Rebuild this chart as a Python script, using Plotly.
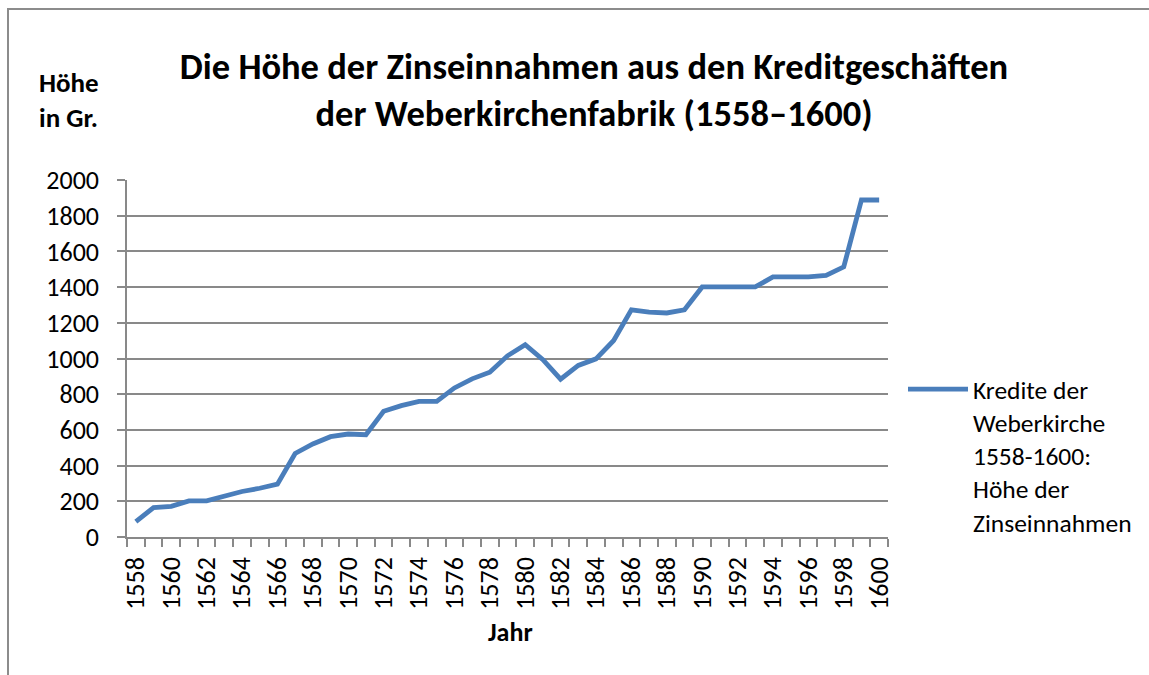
import plotly.graph_objects as go

# Interest income of the Weberkirche fabric, 1558-1600 (in Groschen)
years = list(range(1558, 1601))
zinsen = [
    86, 165, 172, 202, 202, 230, 255, 273, 296, 468,
    521, 562, 577, 573, 704, 736, 760, 760, 835, 886,
    923, 1015, 1077, 993, 884, 961, 998, 1101, 1273, 1260,
    1255, 1273, 1401, 1401, 1401, 1401, 1457, 1457, 1457, 1466,
    1513, 1888, 1888,
]
label_years = list(range(1558, 1601, 2))
y_ticks = list(range(0, 2001, 200))

series_name = "Kredite der<br>Weberkirche<br>1558-1600:<br>Höhe der<br>Zinseinnahmen"
title_text = "Die Höhe der Zinseinnahmen aus den Kreditgeschäften<br>der Weberkirchenfabrik (1558–1600)"

W, H = 1149, 675
ML, MR, MT, MB = 127, 261, 180, 138
PW, PH = W - ML - MR, H - MT - MB

FONT = "Carlito, Lato, sans-serif"
GRID = "#898989"


def px_x(px):
    return (px - ML) / PW


def px_y(py):
    return (H - MB - py) / PH


fig = go.Figure()
fig.add_trace(go.Scatter(
    x=years, y=zinsen, mode="lines", name=series_name,
    line=dict(color="#4a7ebb", width=4.8),
))

fig.update_layout(
    width=W, height=H,
    margin=dict(l=ML, r=MR, t=MT, b=MB, autoexpand=False),
    paper_bgcolor="white", plot_bgcolor="white",
    font=dict(family=FONT, color="black"),
    title=dict(
        text=title_text,
        font=dict(family=FONT, size=36.5, color="black", weight="bold"),
        xref="container", x=594 / W, xanchor="center",
        yref="container", y=1 - 79 / H, yanchor="middle",
    ),
    showlegend=True,
    legend=dict(
        x=px_x(903), xanchor="left", y=px_y(366), yanchor="top",
        valign="top", itemwidth=60, bgcolor="rgba(0,0,0,0)",
        font=dict(family=FONT, size=25.5, color="black"),
    ),
    xaxis=dict(
        range=[1557.5, 1600.5], showgrid=False, zeroline=False,
        showline=True, linecolor=GRID, linewidth=1.5,
        tickmode="array", tickvals=label_years,
        ticktext=[str(v) for v in label_years],
        ticks="outside", ticklen=8, tickcolor="rgba(0,0,0,0)",
        tickangle=-90, tickfont=dict(family=FONT, size=26, color="black"),
        ticklabelstandoff=0,
        minor=dict(tick0=1557.5, dtick=1, ticks="outside", ticklen=8,
                   tickcolor=GRID, tickwidth=1.5, showgrid=False),
    ),
    yaxis=dict(
        range=[0, 2000], tickmode="array", tickvals=y_ticks,
        showgrid=True, gridcolor=GRID, gridwidth=1.5, zeroline=False,
        showline=True, linecolor=GRID, linewidth=1.5,
        ticks="outside", ticklen=8, tickcolor=GRID, tickwidth=1.5,
        tickfont=dict(family=FONT, size=26, color="black"),
        ticklabelstandoff=13,
    ),
)

# axis titles
fig.add_annotation(
    text="<b>Höhe<br>in Gr.</b>", xref="paper", yref="paper",
    x=px_x(37), y=px_y(100), xanchor="left", yanchor="middle",
    align="left", showarrow=False,
    font=dict(family=FONT, size=27, color="black"),
)
fig.add_annotation(
    text="<b>Jahr</b>", xref="paper", yref="paper",
    x=px_x(510), y=px_y(632), xanchor="center", yanchor="middle",
    showarrow=False, font=dict(family=FONT, size=26, color="black"),
)

# chart frame (left and top edges)
fig.add_shape(
    type="path", xref="paper", yref="paper",
    path=f"M {px_x(8)} {px_y(H + 5)} L {px_x(8)} {px_y(9)} L {px_x(W + 5)} {px_y(9)}",
    line=dict(color="#8c8c8c", width=2),
)

fig.write_html("out.html")
